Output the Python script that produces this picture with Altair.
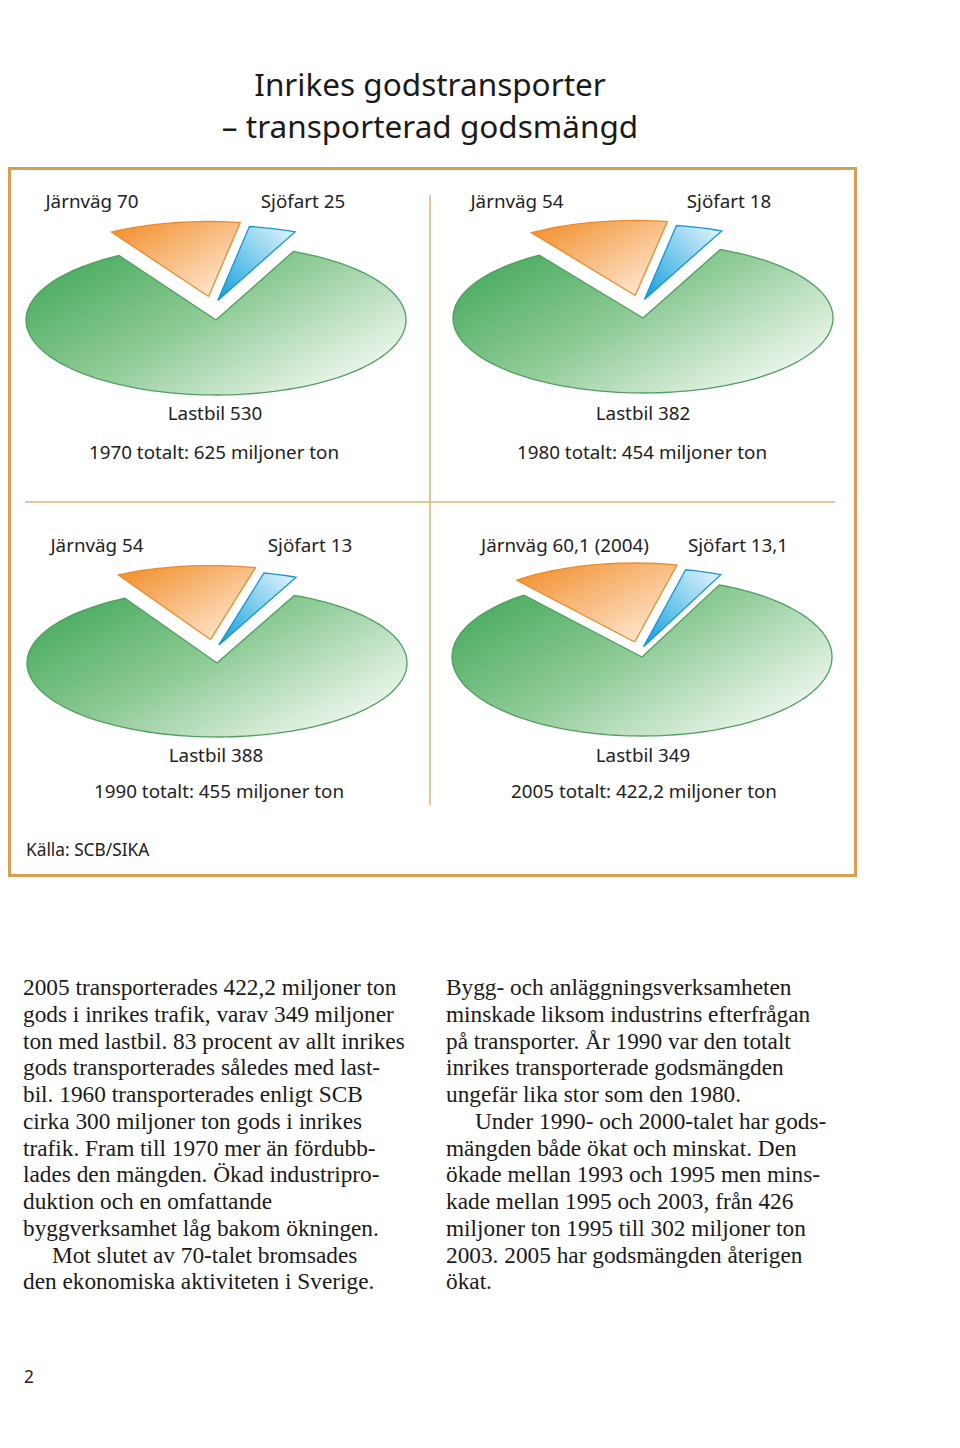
import altair as alt
import pandas as pd
import numpy as np

# ---------------- data ----------------
years = ["1970", "1980", "1990", "2005"]
lastbil = [530, 382, 388, 349]
jarnvag = [70, 54, 54, 60.1]
sjofart = [25, 18, 13, 13.1]
totals = [625, 454, 455, 422.2]
jarnvag_note = ["", "", "", " (2004)"]

title_lines = ["Inrikes godstransporter", "– transporterad godsmängd"]
source_text = "Källa: SCB/SIKA"
page_number = "2"

col_left = [
    "2005 transporterades 422,2 miljoner ton",
    "gods i inrikes trafik, varav 349 miljoner",
    "ton med lastbil. 83 procent av allt inrikes",
    "gods transporterades således med last-",
    "bil. 1960 transporterades enligt SCB",
    "cirka 300 miljoner ton gods i inrikes",
    "trafik. Fram till 1970 mer än fördubb-",
    "lades den mängden. Ökad industripro-",
    "duktion och en omfattande",
    "byggverksamhet låg bakom ökningen.",
    "Mot slutet av 70-talet bromsades",
    "den ekonomiska aktiviteten i Sverige.",
]
col_right = [
    "Bygg- och anläggningsverksamheten",
    "minskade liksom industrins efterfrågan",
    "på transporter. År 1990 var den totalt",
    "inrikes transporterade godsmängden",
    "ungefär lika stor som den 1980.",
    "Under 1990- och 2000-talet har gods-",
    "mängden både ökat och minskat. Den",
    "ökade mellan 1993 och 1995 men mins-",
    "kade mellan 1995 och 2003, från 426",
    "miljoner ton 1995 till 302 miljoner ton",
    "2003. 2005 har godsmängden återigen",
    "ökat.",
]
indent_left = [10]
indent_right = [5]

# ---------------- layout (page pixels) ----------------
W, H = 944, 1400
pie_center = [(216, 320), (643, 318), (217, 663), (642, 657)]
pie_a = 190
pie_b = [75, 75, 74, 79]
explode = [21, 20, 20, 12]
end_angle = 24.0
label_x = [(92, 303, 215, 214), (517, 729, 643, 642), (97, 310, 216, 219), (565, 738, 643, 644)]
label_y = [(202, 414, 453), (202, 414, 453), (546, 756, 792), (546, 756, 792)]

SANS = "Noto Sans"
SERIF = "Liberation Serif"


def fmt(v):
    return str(int(v)) if float(v).is_integer() else str(v).replace(".", ",")


def unit(v):
    return v / np.hypot(v[0], v[1])


# ---------------- pie geometry from values ----------------
rows = []
for p in range(4):
    cx, cy = pie_center[p]
    a, b = pie_a, pie_b[p]
    tot = lastbil[p] + jarnvag[p] + sjofart[p]
    s_end = end_angle
    s_start = s_end - 360 * sjofart[p] / tot
    j_start = s_start - 360 * jarnvag[p] / tot

    def edge(t):
        r = np.radians(t)
        return np.array([a * np.sin(r), -b * np.cos(r)])

    grp = unit(unit(edge(j_start)) + unit(edge(s_end)))
    shift = grp * explode[p]
    u = unit(edge(s_start))
    normal = np.array([-u[1], u[0]])
    offs = {
        "Lastbil": np.array([0.0, 0.0]),
        "Järnväg": shift - normal * 6.5,
        "Sjöfart": shift + normal * 3.5,
    }
    spans = {
        "Lastbil": (s_end, j_start + 360),
        "Järnväg": (j_start, s_start),
        "Sjöfart": (s_start, s_end),
    }
    for cat, (t0, t1) in spans.items():
        n = max(4, int(abs(t1 - t0) / 2))
        ts = np.linspace(t0, t1, n)
        ox, oy = offs[cat]
        pts = [(cx + ox, cy + oy)]
        for t in ts:
            r = np.radians(t)
            pts.append((cx + ox + a * np.sin(r), cy + oy - b * np.cos(r)))
        pts.append((cx + ox, cy + oy))
        for i, (x, y) in enumerate(pts):
            rows.append({"panel": years[p], "cat": cat, "idx": i, "x": x, "y": y})
pie_df = pd.DataFrame(rows)

X = lambda f="x": alt.X(f"{f}:Q", scale=alt.Scale(domain=[8, 8 + W], nice=False, zero=False), axis=None)
Y = lambda f="y": alt.Y(f"{f}:Q", scale=alt.Scale(domain=[8, 8 + H], nice=False, zero=False, reverse=True), axis=None)

styles = {
    "Lastbil": (alt.Gradient(gradient="linear", x1=0, y1=0.15, x2=1, y2=0.85,
                             stops=[alt.GradientStop(color="#45aa5b", offset=0),
                                    alt.GradientStop(color="#8dca95", offset=0.45),
                                    alt.GradientStop(color="#fbfdfa", offset=1)]), "#4f9f60"),
    "Järnväg": (alt.Gradient(gradient="linear", x1=0, y1=0, x2=1, y2=1,
                             stops=[alt.GradientStop(color="#f28b25", offset=0),
                                    alt.GradientStop(color="#fff1e3", offset=1)]), "#e98a2c"),
    "Sjöfart": (alt.Gradient(gradient="linear", x1=0, y1=1, x2=1, y2=0,
                             stops=[alt.GradientStop(color="#0f9fdc", offset=0),
                                    alt.GradientStop(color="#e8f6fd", offset=1)]), "#1795d2"),
}

layers = []

# frame and dividers
frame_df = pd.DataFrame([{"x": 9.5, "x2": 855.5, "y": 168.5, "y2": 875.5}])
layers.append(alt.Chart(frame_df).mark_rect(fill="white", fillOpacity=0, stroke="#d89e52", strokeWidth=3)
              .encode(x=X(), x2="x2:Q", y=Y(), y2="y2:Q"))
div_df = pd.DataFrame([{"x": 430, "x2": 430, "y": 195, "y2": 805},
                       {"x": 25, "x2": 835, "y": 502, "y2": 502}])
layers.append(alt.Chart(div_df).mark_rule(stroke="#d8b47a", strokeWidth=1.5)
              .encode(x=X(), x2="x2:Q", y=Y(), y2="y2:Q"))

for cat in ["Lastbil", "Järnväg", "Sjöfart"]:
    fill, stroke = styles[cat]
    layers.append(alt.Chart(pie_df[pie_df.cat == cat]).mark_line(
        fill=fill, stroke=stroke, strokeWidth=1.3, strokeJoin="miter", interpolate="linear")
        .encode(x=X(), y=Y(), detail="panel:N", order="idx:Q"))

# pie labels
lab = []
for p in range(4):
    jx, sx, lx, tx = label_x[p]
    ty, ly, toty = label_y[p]
    lab.append({"x": jx, "y": ty, "t": f"Järnväg {fmt(jarnvag[p])}{jarnvag_note[p]}"})
    lab.append({"x": sx, "y": ty, "t": f"Sjöfart {fmt(sjofart[p])}"})
    lab.append({"x": lx, "y": ly, "t": f"Lastbil {fmt(lastbil[p])}"})
    lab.append({"x": tx, "y": toty, "t": f"{years[p]} totalt: {fmt(totals[p])} miljoner ton"})
lab_df = pd.DataFrame(lab)
layers.append(alt.Chart(lab_df).mark_text(font=SANS, fontSize=18.8, color="#222222",
                                          align="center", baseline="middle")
              .encode(x=X(), y=Y(), text="t:N"))

src_df = pd.DataFrame([{"x": 26, "y": 851, "t": source_text}, {"x": 24, "y": 1378, "t": page_number}])
layers.append(alt.Chart(src_df).mark_text(font=SANS, fontSize=17.3, color="#222222",
                                          align="left", baseline="middle")
              .encode(x=X(), y=Y(), text="t:N"))

title_df = pd.DataFrame([{"x": 430, "y": 87, "t": title_lines[0]}, {"x": 430, "y": 129, "t": title_lines[1]}])
layers.append(alt.Chart(title_df).mark_text(font=SANS, fontSize=31.5, color="#1a1a1a",
                                            align="center", baseline="middle")
              .encode(x=X(), y=Y(), text="t:N"))

body = []
for col, x0, ind in [(col_left, 23, indent_left), (col_right, 446, indent_right)]:
    for i, line in enumerate(col):
        body.append({"x": x0 + (29 if i in ind else 0), "y": 988 + i * 26.75, "t": line})
body_df = pd.DataFrame(body)
layers.append(alt.Chart(body_df).mark_text(font=SERIF, fontSize=23.3, color="#1a1a1a", align="left", baseline="middle")
              .encode(x=X(), y=Y(), text="t:N"))

chart = alt.layer(*layers).properties(
    width=W, height=H, autosize=alt.AutoSizeParams(type="none"), padding=0
).configure_view(stroke=None)

chart.save("out.html", embed_options={"renderer": "svg", "actions": False})
